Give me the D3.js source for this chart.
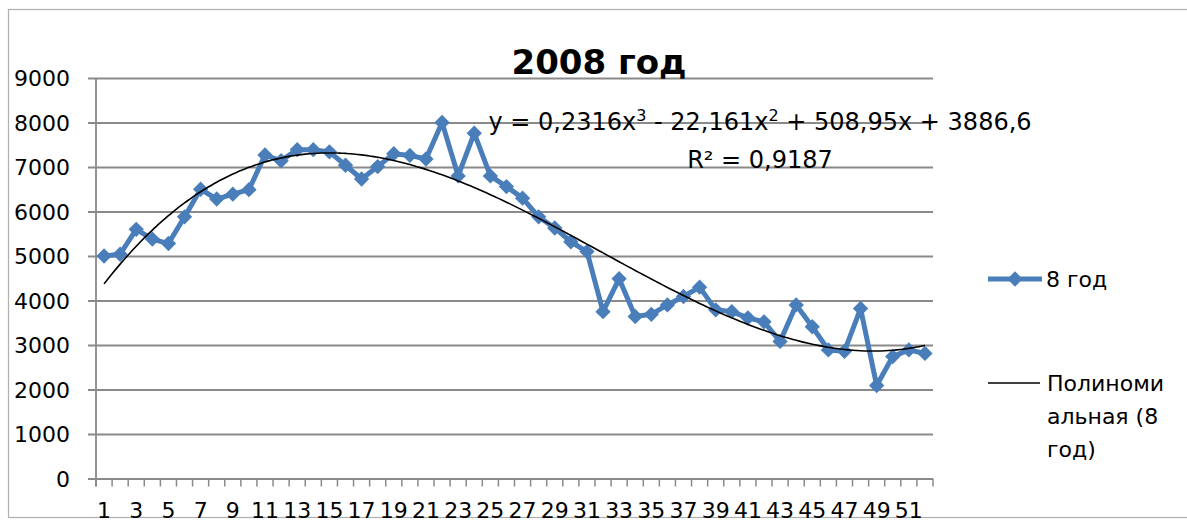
<!DOCTYPE html>
<html>
<head>
<meta charset="utf-8">
<script src="https://cdn.jsdelivr.net/npm/d3@7"></script>
<style>
  body { margin: 0; background: #fff; }
  svg text { font-family: "DejaVu Sans", "Liberation Sans", sans-serif; fill: #000; }
</style>
</head>
<body>
<svg id="chart" width="1187" height="522"></svg>
<script>
// weeks of 2008 and weekly values
const weeks = d3.range(1, 53);
const values = [
  5000, 5040, 5600, 5380, 5280, 5880, 6500, 6280, 6390, 6490,
  7270, 7140, 7390, 7390, 7340, 7040, 6730, 7010, 7300, 7260,
  7180, 8000, 6800, 7760, 6800, 6560, 6300, 5880, 5630, 5320,
  5100, 3750, 4490, 3640, 3690, 3900, 4090, 4300, 3790, 3750,
  3610, 3520, 3080, 3900, 3410, 2890, 2860, 3820, 2090, 2740,
  2890, 2810
];
const yTicks = [0, 1000, 2000, 3000, 4000, 5000, 6000, 7000, 8000, 9000];
// trendline coefficients as printed on the chart (a0 + a1 x + a2 x^2 + a3 x^3)
const trendCoef = [3886.6, 508.95, -22.161, 0.2316];
const seriesName = "8 год";
const trendName = ["Полиноми", "альная (8", "год)"];

const svg = d3.select('#chart');

// chart frame
svg.append('rect')
  .attr('x', 8.5).attr('y', 9.5)
  .attr('width', 1200).attr('height', 508)
  .attr('fill', 'none')
  .attr('stroke', '#b0b0b0')
  .attr('stroke-width', 1.2);

const x = d3.scaleBand().domain(weeks).range([96, 933]);
const y = d3.scaleLinear().domain([0, 9000]).range([478.5, 78]);
const xc = d => x(d) + x.bandwidth() / 2;

// gridlines + y labels
const yAxis = svg.append('g')
  .attr('transform', 'translate(96,0)')
  .call(d3.axisLeft(y).tickValues(yTicks).tickFormat(d3.format('d'))
    .tickSize(-(933 - 96)).tickSizeOuter(0).tickPadding(26));
yAxis.select('.domain').remove();
yAxis.selectAll('.tick line')
  .attr('x1', -8)
  .attr('stroke', '#8a8a8a')
  .attr('stroke-width', 1.8);
yAxis.selectAll('.tick text')
  .style('font-size', '22px')
  .attr('dy', '0.36em');

// vertical axis line
svg.append('line')
  .attr('x1', 96).attr('x2', 96)
  .attr('y1', y(9000)).attr('y2', y(0) + 8)
  .attr('stroke', '#8a8a8a').attr('stroke-width', 1.8);

// x axis tick marks at category boundaries
svg.append('g').selectAll('line')
  .data(weeks.concat([53]))
  .join('line')
  .attr('x1', d => d === 53 ? 933 : x(d))
  .attr('x2', d => d === 53 ? 933 : x(d))
  .attr('y1', y(0)).attr('y2', y(0) + 8)
  .attr('stroke', '#8a8a8a').attr('stroke-width', 1.5);

// x labels (odd weeks)
svg.append('g').selectAll('text')
  .data(weeks.filter(d => d % 2 === 1))
  .join('text')
  .attr('x', d => xc(d))
  .attr('y', 518)
  .attr('text-anchor', 'middle')
  .style('font-size', '22px')
  .text(d => d);

// series line
const line = d3.line()
  .x((d, i) => xc(weeks[i]))
  .y(d => y(d));

svg.append('path')
  .datum(values)
  .attr('d', line)
  .attr('fill', 'none')
  .attr('stroke', '#4a7ebb')
  .attr('stroke-width', 5)
  .attr('stroke-linejoin', 'round');

const diamond = d3.symbol().type(d3.symbolDiamond2).size(150);
svg.append('g').selectAll('path')
  .data(values)
  .join('path')
  .attr('transform', (d, i) => `translate(${xc(weeks[i])},${y(d)})`)
  .attr('d', diamond)
  .attr('fill', '#4a7ebb');

// polynomial trendline
const poly = t => trendCoef.reduce((s, a, k) => s + a * Math.pow(t, k), 0);
const tPts = d3.range(1, 52.01, 0.25);
const bw = x.bandwidth();
svg.append('path')
  .datum(tPts)
  .attr('d', d3.line()
    .x(t => xc(1) + (t - 1) * bw)
    .y(t => y(poly(t)))
    .curve(d3.curveMonotoneX))
  .attr('fill', 'none')
  .attr('stroke', '#000')
  .attr('stroke-width', 1.6);

// title
svg.append('text')
  .attr('x', 599).attr('y', 74)
  .attr('text-anchor', 'middle')
  .style('font-size', '34px')
  .style('font-weight', 'bold')
  .text('2008 год');

// equation label
const eq = svg.append('text')
  .attr('x', 760).attr('y', 130)
  .attr('text-anchor', 'middle')
  .style('font-size', '24px');
eq.append('tspan').text('y = 0,2316x');
eq.append('tspan').attr('dy', -9).style('font-size', '16px').text('3');
eq.append('tspan').attr('dy', 9).text(' - 22,161x');
eq.append('tspan').attr('dy', -9).style('font-size', '16px').text('2');
eq.append('tspan').attr('dy', 9).text(' + 508,95x + 3886,6');

svg.append('text')
  .attr('x', 760).attr('y', 168)
  .attr('text-anchor', 'middle')
  .style('font-size', '24px')
  .text('R² = 0,9187');

// legend
const lg = svg.append('g');
lg.append('line')
  .attr('x1', 988).attr('x2', 1042)
  .attr('y1', 279).attr('y2', 279)
  .attr('stroke', '#4a7ebb').attr('stroke-width', 5);
lg.append('path')
  .attr('transform', 'translate(1015,279)')
  .attr('d', diamond)
  .attr('fill', '#4a7ebb');
lg.append('text')
  .attr('x', 1046).attr('y', 287)
  .style('font-size', '22px')
  .text(seriesName);

lg.append('line')
  .attr('x1', 988).attr('x2', 1040)
  .attr('y1', 383).attr('y2', 383)
  .attr('stroke', '#000').attr('stroke-width', 1.6);
lg.append('g').selectAll('text')
  .data(trendName)
  .join('text')
  .attr('x', 1047)
  .attr('y', (d, i) => 391 + i * 33)
  .style('font-size', '22px')
  .text(d => d);
</script>
</body>
</html>
